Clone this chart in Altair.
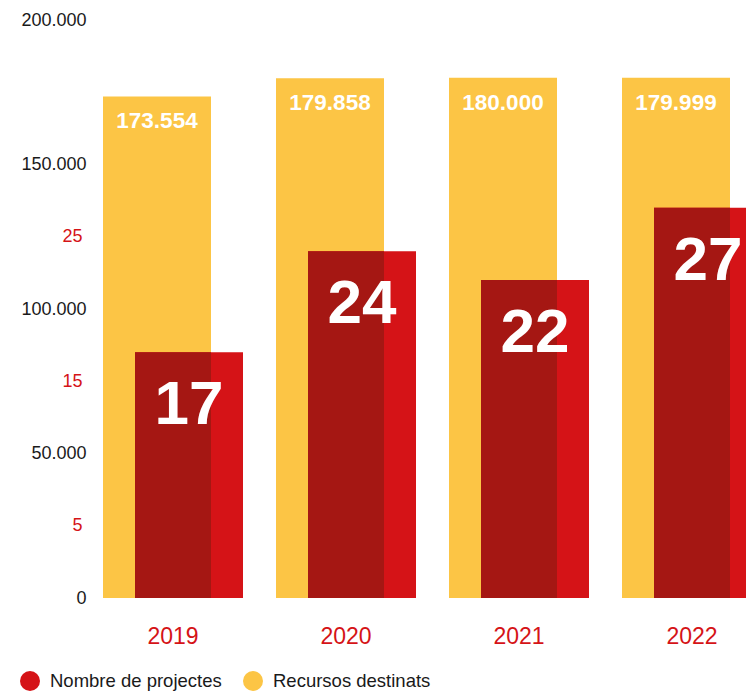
import altair as alt
import pandas as pd

years = ["2019", "2020", "2021", "2022"]
recursos = [173554, 179858, 180000, 179999]
projectes = [17, 24, 22, 27]
series_names = ["Nombre de projectes", "Recursos destinats"]

YELLOW = "#FCC545"
RED = "#D51317"
DARK = "#A51713"
FONT = "Liberation Sans"

df = pd.DataFrame({
    "year": years,
    "recursos": recursos,
    "projectes": projectes,
})
df["rec_label"] = [f"{v:,}".replace(",", ".") for v in recursos]
df["proj_label"] = [str(v) for v in projectes]
df["serie_rec"] = series_names[1]
df["serie_proj"] = series_names[0]

xscale = alt.Scale(domain=years, range=[-9.5, 682.5], paddingInner=0, paddingOuter=0)
xaxis = alt.Axis(title=None, labelColor=RED, labelFontSize=23, labelFont=FONT,
                 domain=False, ticks=False, tickSize=0, labelPadding=27, labelAngle=0, grid=False)
x = alt.X("year:N", scale=xscale, axis=xaxis)

yscale_rec = alt.Scale(domain=[0, 200000], nice=False, zero=True)
yscale_proj = alt.Scale(domain=[0, 40], nice=False, zero=True)

color_scale = alt.Scale(domain=series_names, range=[RED, YELLOW])
legend = alt.Legend(
    title=None, orient="none", legendX=-76, legendY=651, direction="horizontal",
    symbolType="circle", symbolSize=400, symbolStrokeWidth=0, symbolOpacity=1,
    labelFontSize=18.5, labelFont=FONT, labelColor="#1a1a1a", labelOffset=10,
    columnPadding=21, padding=0, labelLimit=400,
)

base = alt.Chart(df)

yellow = base.mark_bar(width=108, xOffset=-16).encode(
    x=x,
    y=alt.Y("recursos:Q", scale=yscale_rec, axis=alt.Axis(
        orient="left", values=[0, 50000, 100000, 150000, 200000],
        labelExpr="replace(format(datum.value, ','), ',', '.')",
        title=None, domain=False, ticks=False, tickSize=0, grid=False,
        labelFontSize=18, labelFont=FONT, labelColor="#1a1a1a", labelPadding=10)),
    color=alt.Color("serie_rec:N", scale=color_scale, legend=legend),
)

red = base.mark_bar(width=108, xOffset=16, clip=True).encode(
    x=x,
    y=alt.Y("projectes:Q", scale=yscale_proj, axis=alt.Axis(
        orient="left", values=[5, 15, 25], title=None, domain=False, ticks=False,
        tickSize=0, grid=False, labelFontSize=18, labelFont=FONT, labelColor=RED,
        labelPadding=14)),
    color=alt.Color("serie_proj:N", scale=color_scale, legend=legend),
)

dark = base.mark_bar(width=76, color=DARK).encode(
    x=x,
    y=alt.Y("projectes:Q", scale=yscale_proj, axis=None),
)

rec_text = base.mark_text(xOffset=-16, dy=32, baseline="alphabetic", align="center",
                          font=FONT, fontSize=22.5, fontWeight="bold", color="white").encode(
    x=x,
    y=alt.Y("recursos:Q", scale=yscale_rec, axis=None),
    text="rec_label:N",
)

proj_text = base.mark_text(xOffset=16, dy=72, baseline="alphabetic", align="center",
                           font=FONT, fontSize=62, fontWeight="bold", color="white").encode(
    x=x,
    y=alt.Y("projectes:Q", scale=yscale_proj, axis=None),
    text="proj_label:N",
)

chart = alt.layer(yellow, red, dark, rec_text, proj_text).resolve_scale(
    y="independent"
).properties(
    width=650, height=578,
    autosize=alt.AutoSizeParams(type="none"),
    padding={"left": 88, "top": 12, "right": 0, "bottom": 93},
).configure_view(stroke=None)

chart.save("out.html", embed_options={"renderer": "svg", "actions": False})
